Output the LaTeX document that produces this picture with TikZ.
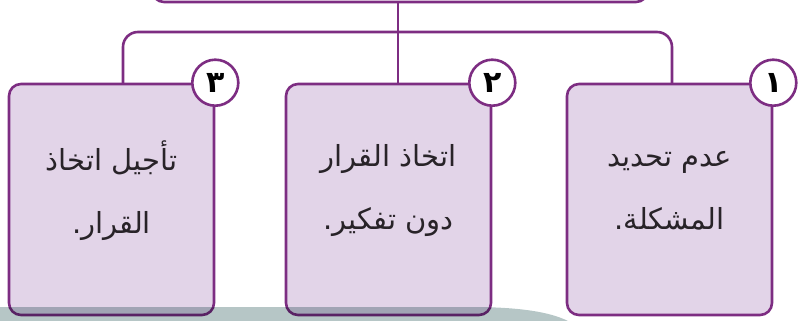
\documentclass[tikz,border=0pt]{standalone}
\usepackage{fontspec}
\TeXXeTstate=1
\newfontfamily\arabicfont[Script=Arabic]{DejaVu Sans}
\newfontfamily\arabicbold[Script=Arabic]{DejaVu Sans Bold}
\definecolor{framec}{RGB}{125,45,130}
\definecolor{boxc}{RGB}{226,212,232}
\definecolor{bandc}{RGB}{182,198,198}
\definecolor{textc}{RGB}{40,35,40}
\tikzset{
  conn/.style={draw=framec, line width=2.6pt},
  stepbox/.style={draw=framec, fill=boxc, line width=2.6pt, rounded corners=12pt,
    minimum width=205pt, minimum height=231pt, inner sep=0pt},
  topbox/.style={draw=framec, fill=white, line width=2.6pt, rounded corners=12pt,
    minimum width=496pt, minimum height=84pt, inner sep=0pt},
  numc/.style={circle, draw=framec, fill=white, line width=2.6pt, minimum size=46pt,
    inner sep=0pt, font=\arabicbold\fontsize{30}{30}\selectfont, text=black},
  label/.style={align=center, text=textc, font=\arabicfont\fontsize{29}{63}\selectfont, inner sep=0pt}
}
\begin{document}
\begin{tikzpicture}[x=1pt,y=-1pt]
\useasboundingbox (0,0) rectangle (804,321);
\clip (0,0) rectangle (804,321);
% top box (partly outside)
\node[topbox] (top) at (400,-40) {};
% connectors
\coordinate (t3) at (123,84);
\coordinate (t2) at (398,84);
\coordinate (t1) at (672,84);
\coordinate (j) at (398,32);
\draw[conn] (top.south -| t2) -- (t2);
\draw[conn, rounded corners=15pt] (t3) |- (j) -| (t1);
% boxes
\node[stepbox] (b3) at (111.5,199.5) {};
\node[stepbox] (b2) at (388.5,199.5) {};
\node[stepbox] (b1) at (669.5,199.5) {};
% texts
\node[label] (l3) at (111.5,191) {\beginR تأجيل اتخاذ\endR\\\beginR القرار.\endR};
\node[label] (l2) at (388.5,191) {\beginR اتخاذ القرار\endR\\\beginR دون تفكير.\endR};
\node[label] (l1) at (669.5,191) {\beginR عدم تحديد\endR\\\beginR المشكلة.\endR};
% number circles
\node[numc] (n3) at (b3.north east) {\beginR ٣\endR};
\node[numc] (n2) at (b2.north east) {\beginR ٢\endR};
\node[numc] (n1) at (b1.north east) {\beginR ١\endR};
% bottom band
\begin{scope}[blend mode=multiply]
\fill[bandc] (0,321) -- (0,307) -- (470,307) .. controls (520,307) and (550,312) .. (568,321) -- cycle;
\end{scope}
\end{tikzpicture}
\end{document}
